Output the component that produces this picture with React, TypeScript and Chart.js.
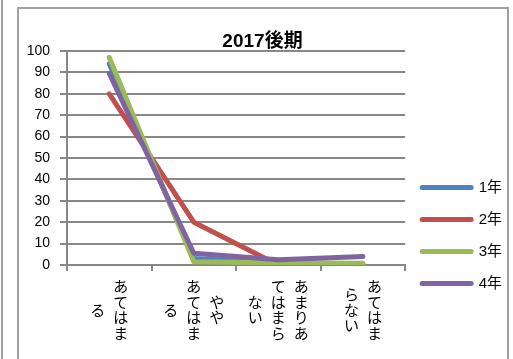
import { useEffect, useRef } from 'react';
import { Chart, registerables } from 'chart.js';

Chart.register(...registerables);

// Category labels, written as vertical columns (right-to-left)
const categoryColumns: string[][] = [
  ['あてはま', 'る'],
  ['やや', 'あてはま', 'る'],
  ['あまりあ', 'てはまら', 'ない'],
  ['あてはま', 'らない'],
];
const categories: string[] = categoryColumns.map((c) => c.join(''));

const seriesNames: string[] = ['1年', '2年', '3年', '4年'];
const seriesColors: string[] = ['#4F81BD', '#C0504D', '#9BBB59', '#8064A2'];

const year1: number[] = [94, 3, 1, 0.5];
const year2: number[] = [80, 20, 0, 0.5];
const year3: number[] = [97, 1.5, 1, 0.8];
const year4: number[] = [89.5, 5.5, 2.5, 4];

const chartTitle = '2017後期';
const yMin = 0;
const yMax = 100;
const yStep = 10;

const GRID = '#888888';
const LATIN = '"Liberation Sans", "Noto Sans CJK JP", sans-serif';
const CJK = '"Noto Sans CJK JP", "Liberation Sans", sans-serif';

const verticalLabels = {
  id: 'verticalLabels',
  afterDraw(chart: any) {
    const xs = chart.scales.x;
    const ctx = chart.ctx as CanvasRenderingContext2D;
    ctx.save();
    ctx.font = `15px ${CJK}`;
    ctx.fillStyle = '#000000';
    ctx.textAlign = 'center';
    ctx.textBaseline = 'middle';
    const centerY = xs.top + 45;
    categories.forEach((_, i) => {
      const cols = categoryColumns[i];
      const cx = xs.getPixelForValue(i);
      cols.forEach((col, j) => {
        const colX = cx + ((cols.length - 1) / 2 - j) * 23;
        const chars = Array.from(col);
        chars.forEach((ch, k) => {
          ctx.fillText(ch, colX, centerY + (k - (chars.length - 1) / 2) * 15.5);
        });
      });
    });
    ctx.restore();
  },
};

export default function App() {
  const ref = useRef<HTMLCanvasElement | null>(null);

  useEffect(() => {
    if (!ref.current) return;
    const allSeries = [year1, year2, year3, year4];
    const chart = new Chart(ref.current, {
      type: 'line',
      data: {
        labels: categories,
        datasets: allSeries.map((data, i) => ({
          label: seriesNames[i],
          data,
          borderColor: seriesColors[i],
          backgroundColor: seriesColors[i],
          borderWidth: 5,
          borderCapStyle: 'round' as const,
          borderJoinStyle: 'round' as const,
          pointRadius: 0,
          pointHoverRadius: 0,
          tension: 0,
          fill: false,
          order: allSeries.length - i,
        })),
      },
      options: {
        responsive: false,
        animation: false,
        devicePixelRatio: 1,
        layout: { padding: { left: 0, right: 0, top: 0, bottom: 0 } },
        plugins: {
          tooltip: { enabled: false },
          title: {
            display: true,
            text: chartTitle,
            color: '#000000',
            font: { family: LATIN, size: 19, weight: 'bold', lineHeight: 1.2 },
            padding: { top: 21.6, bottom: -2.4 },
          },
          legend: {
            display: true,
            position: 'right',
            align: 'start',
            title: {
              display: true,
              text: '',
              padding: { top: 144, bottom: 0 },
              font: { size: 10, lineHeight: 1 },
            },
            labels: {
              usePointStyle: true,
              pointStyle: 'line',
              pointStyleWidth: 49,
              boxWidth: 49,
              padding: 17,
              color: '#000000',
              font: { family: LATIN, size: 15 },
              sort: (a: any, b: any) => a.datasetIndex - b.datasetIndex,
              generateLabels: (chart: any) =>
                Chart.defaults.plugins.legend.labels
                  .generateLabels(chart)
                  .map((item: any) => ({ ...item, lineCap: 'round', pointStyle: 'line' })),
            },
          },
        },
        scales: {
          x: {
            type: 'category',
            offset: true,
            afterFit: (scale: any) => {
              scale.height = 94;
            },
            grid: {
              display: true,
              drawOnChartArea: false,
              drawTicks: true,
              tickLength: 6,
              offset: true,
              color: GRID,
              lineWidth: 2,
            },
            border: { display: true, color: GRID, width: 2 },
            ticks: { display: false },
          },
          y: {
            min: yMin,
            max: yMax,
            afterFit: (scale: any) => {
              scale.width = 54;
            },
            ticks: {
              stepSize: yStep,
              color: '#000000',
              padding: 10,
              font: { family: LATIN, size: 14 },
            },
            grid: {
              color: GRID,
              lineWidth: 2,
              drawTicks: true,
              tickLength: 7,
            },
            border: { display: true, color: GRID, width: 2 },
          },
        },
      },
      plugins: [verticalLabels],
    } as any);
    return () => chart.destroy();
  }, []);

  return (
    <div
      style={{
        position: 'fixed',
        left: 0,
        top: 0,
        width: 513,
        height: 359,
        background: '#ffffff',
        overflow: 'hidden',
      }}
    >
      <div
        style={{
          position: 'absolute',
          left: 0,
          top: -10,
          width: 3,
          height: 400,
          borderRight: '2px solid #a0a0a0',
          boxSizing: 'border-box',
        }}
      />
      <div
        style={{
          position: 'absolute',
          left: 17,
          top: 7,
          width: 492,
          height: 400,
          border: '2px solid #a0a0a0',
          boxSizing: 'border-box',
        }}
      />
      <canvas
        ref={ref}
        width={499}
        height={350}
        style={{ position: 'absolute', left: 13, top: 9, width: 499, height: 350 }}
      />
    </div>
  );
}
